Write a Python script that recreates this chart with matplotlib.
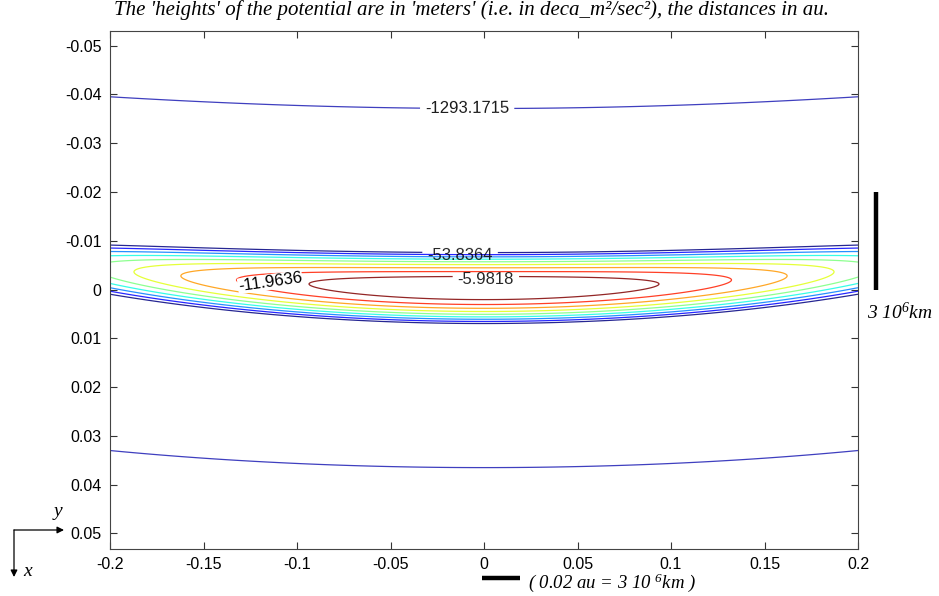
import numpy as np
import matplotlib.pyplot as plt
from matplotlib.colors import Normalize

plt.rcParams['font.family'] = ['Liberation Sans', 'DejaVu Sans']
plt.rcParams['axes.unicode_minus'] = False
plt.rcParams['mathtext.default'] = 'regular'
plt.rcParams['contour.negative_linestyle'] = 'solid'

# potential heights in deca-metres, one contour every 5.9818
inner_levels = [-53.8364, -47.8546, -41.8728, -35.8910, -29.9092,
                -23.9274, -17.9456, -11.9636, -5.9818]
outer_level = -1293.1715
# contours carrying an inline label, with where the label sits
label_spots = {-53.8364: (-0.0128, -0.0068), -5.9818: (0.001, -0.0027)}

x_ticks = [-0.2, -0.15, -0.1, -0.05, 0, 0.05, 0.1, 0.15, 0.2]
x_labels = ['-0.2', '-0.15', '-0.1', '-0.05', '0', '0.05', '0.1', '0.15', '0.2']
y_ticks = [-0.05, -0.04, -0.03, -0.02, -0.01, 0, 0.01, 0.02, 0.03, 0.04, 0.05]
y_labels = ['-0.05', '-0.04', '-0.03', '-0.02', '-0.01', '0',
            '0.01', '0.02', '0.03', '0.04', '0.05']

# shape of the hill: depth of first contour, its half sizes, bend of the orbit arc
unit = 5.9818
x_half = 0.0936
y_half = 0.00237
y_centre = -0.0003
bend = 0.095
bend_fall = 16.0
power = 1.96

x = np.linspace(-0.2, 0.2, 801)
y = np.linspace(-0.054, 0.054, 801)
X, Y = np.meshgrid(x, y)
U = Y - y_centre + (bend - bend_fall * Y**2) * X**2
Z = -unit * ((np.abs(U) / y_half)**power + (X / x_half)**2)

fig = plt.figure(figsize=(9.39, 5.96), dpi=100)
ax = fig.add_axes([110/939, 47/596, 748/939, 518/596])

jet = plt.get_cmap('jet')
norm = Normalize(min(inner_levels), max(inner_levels))
lab_font = dict(fontsize=12, colors='k', fmt='%.4f', inline=True)

for lev in inner_levels:
    c = ax.contour(X, Y, Z, levels=[lev], colors=[jet(norm(lev))],
                   linewidths=0.9, linestyles='solid', alpha=0.85)
    if lev in label_spots:
        for t in ax.clabel(c, manual=[label_spots[lev]], **lab_font):
            # text sits a little below the gap, as in the matlab output
            t.set_y(t.get_position()[1] + 0.0006)

co = ax.contour(X, Y, Z, levels=[outer_level], colors='#2a2ab8',
                linewidths=0.9, linestyles='solid', alpha=0.9)
ax.clabel(co, manual=[(-0.009, -0.0376)], **lab_font)

ax.text(-0.1144, -0.00154, '%.4f' % inner_levels[7], rotation=8, fontsize=12,
        ha='center', va='center', rotation_mode='anchor',
        bbox=dict(fc='white', ec='none', pad=0.2))

ax.set_xlim(-0.2, 0.2)
ax.set_ylim(0.0532, -0.0530)
ax.set_xticks(x_ticks)
ax.set_xticklabels(x_labels)
ax.set_yticks(y_ticks)
ax.set_yticklabels(y_labels)
ax.tick_params(direction='in', top=True, right=True, length=5, width=0.8,
               labelsize=11.5, pad=6, colors='#333333', labelcolor='black')
for s in ax.spines.values():
    s.set_color('#444444')
    s.set_linewidth(0.8)

# scale bars: 0.02 au in each direction
ax.plot([0.2095, 0.2095], [-0.02, 0.0], color='k', lw=3.2, clip_on=False,
        solid_capstyle='butt')
ax.plot([-0.001, 0.019], [0.0591, 0.0591], color='k', lw=3.2, clip_on=False,
        solid_capstyle='butt')

serif = dict(family=['Liberation Serif', 'DejaVu Serif'], style='italic')
fig.text(900/939, 1 - 313/596, '3 10$^{6}$km', fontsize=14, ha='center',
         va='center', **serif)
fig.text(528/939, 1 - 583/596, '( 0.02 au = 3 10 $^{6}$km )', fontsize=13.5,
         ha='left', va='center', **serif)
fig.text(472/939, 1 - 10/596,
         "The 'heights' of the potential are in 'meters' (i.e. in deca_m\u00b2/sec\u00b2), "
         "the distances in au.", fontsize=15, ha='center', va='center', **serif)

# orientation arrows, bottom left
arr = dict(arrowstyle='-|>', color='k', lw=0.9, mutation_scale=10, shrinkA=0, shrinkB=0)
ax.annotate('', xy=(14/939, 1 - 577/596), xytext=(14/939, 1 - 530/596),
            xycoords='figure fraction', arrowprops=arr, annotation_clip=False)
ax.annotate('', xy=(64/939, 1 - 530/596), xytext=(14/939, 1 - 530/596),
            xycoords='figure fraction', arrowprops=arr, annotation_clip=False)
fig.text(28/939, 1 - 572/596, 'x', fontsize=14, ha='center', va='center', **serif)
fig.text(58/939, 1 - 511/596, 'y', fontsize=14, ha='center', va='center', **serif)

fig.savefig('out.png', dpi=100)
